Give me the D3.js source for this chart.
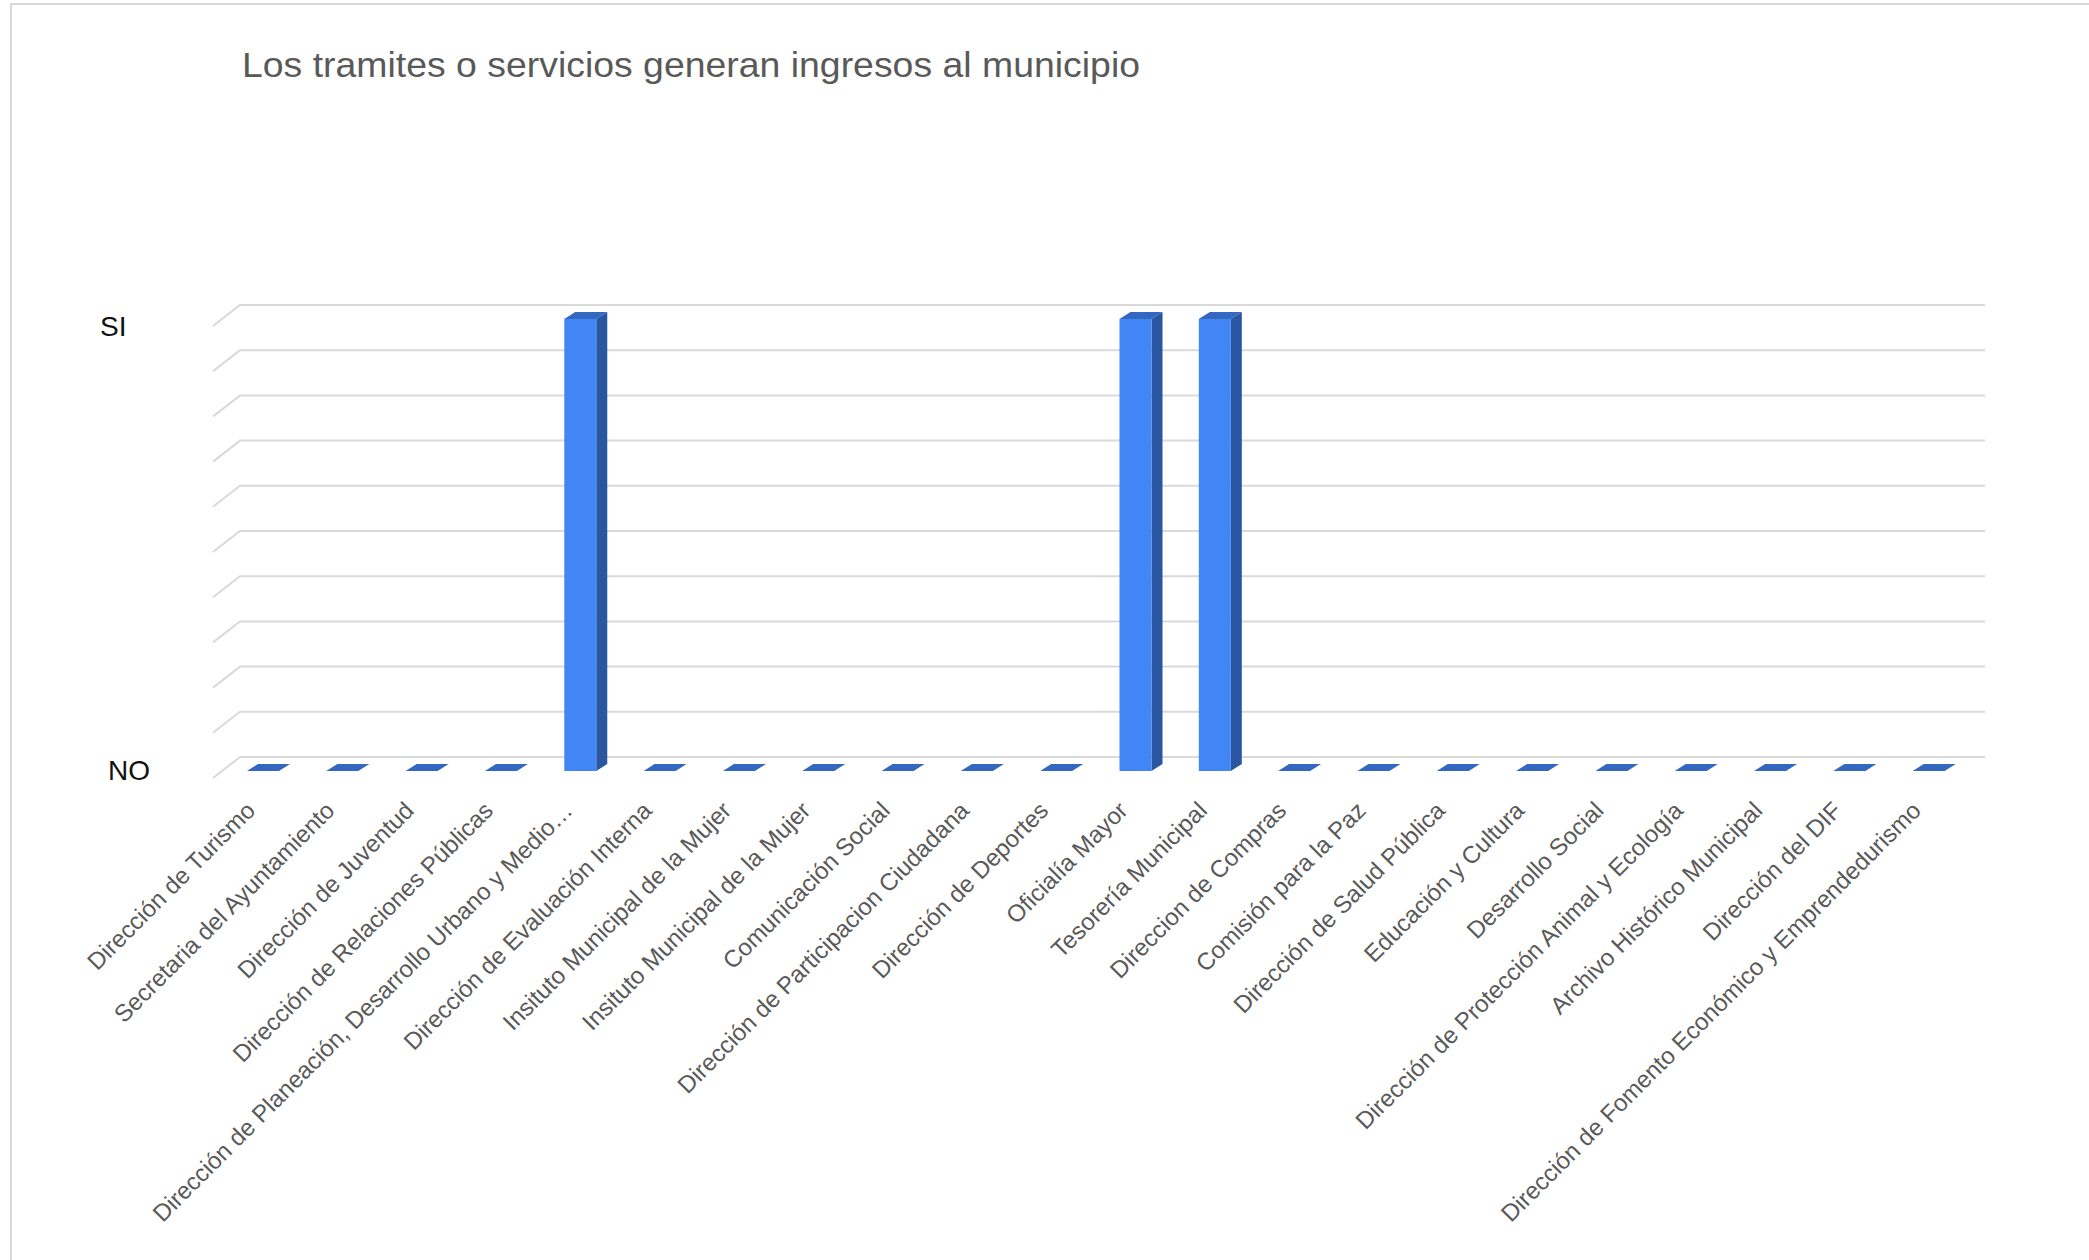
<!DOCTYPE html>
<html>
<head>
<meta charset="utf-8">
<script src="https://cdn.jsdelivr.net/npm/d3@7"></script>
<style>
  html, body { margin: 0; padding: 0; background: #fff; }
  svg { display: block; font-family: "Liberation Sans", Arial, sans-serif; }
</style>
</head>
<body>
<div id="chart"></div>
<script>
// datos (1 = SI, 0 = NO)
const categories = [
    "Dirección de Turismo",
    "Secretaria del Ayuntamiento",
    "Dirección de Juventud",
    "Dirección de Relaciones Públicas",
    "Dirección de Planeación, Desarrollo Urbano y Medio…",
    "Dirección de Evaluación Interna",
    "Insituto Municipal de la Mujer",
    "Insituto Municipal de la Mujer",
    "Comunicación Social",
    "Dirección de Participacion Ciudadana",
    "Dirección de Deportes",
    "Oficialía Mayor",
    "Tesorería Municipal",
    "Direccion de Compras",
    "Comisión para la Paz",
    "Dirección de Salud Pública",
    "Educación y Cultura",
    "Desarrollo Social",
    "Dirección de Protección Animal y Ecología",
    "Archivo Histórico Municipal",
    "Dirección del DIF",
    "Dirección de Fomento Económico y Emprendedurismo"
];
const values = [0, 0, 0, 0, 1, 0, 0, 0, 0, 0, 0, 1, 1, 0, 0, 0, 0, 0, 0, 0, 0, 0];
const yTickValues = [0, 1];
const yTickLabels = ["NO", "SI"];
const title = "Los tramites o servicios generan ingresos al municipio";

const W = 2089, H = 1260;
const margin = { left: 240, right: 1985, top: 305, bottom: 757 };

// profundidad del efecto 3D
const wallDx = -27, wallDy = 21;
const barDx = 11, barDy = 7, barShift = 14;
const barOffset = 7, barWidth = 32;

const svg = d3.select("#chart").append("svg")
    .attr("width", W)
    .attr("height", H);

svg.append("rect").attr("width", W).attr("height", H).attr("fill", "#fff");

// marco
svg.append("line").attr("x1", 10).attr("x2", W).attr("y1", 4).attr("y2", 4)
    .attr("stroke", "#d9d9d9").attr("stroke-width", 2);
svg.append("line").attr("x1", 11).attr("x2", 11).attr("y1", 4).attr("y2", H)
    .attr("stroke", "#d9d9d9").attr("stroke-width", 2);

svg.append("text")
    .attr("x", 242)
    .attr("y", 77)
    .attr("font-size", 35)
    .attr("fill", "#595959")
    .attr("textLength", 898)
    .attr("lengthAdjust", "spacingAndGlyphs")
    .text(title);

const x = d3.scaleBand()
    .domain(d3.range(categories.length))
    .range([margin.left, margin.right]);

const y = d3.scaleLinear()
    .domain([0, 1])
    .range([margin.bottom, margin.top]);

// lineas de cuadricula con su pequeño tramo diagonal
const grid = svg.append("g");
y.ticks(10).forEach(t => {
    grid.append("path")
        .attr("d", `M${margin.left + wallDx},${y(t) + wallDy}L${margin.left},${y(t)}L${margin.right},${y(t)}`)
        .attr("fill", "none")
        .attr("stroke", "#d9d9d9")
        .attr("stroke-width", 2);
});

// etiquetas SI / NO (pequeño ajuste de posicion para cada una)
const yLabelNudge = { NO: { dx: 0, dy: 23 }, SI: { dx: -8, dy: 31 } };
svg.append("g").selectAll("text")
    .data(yTickValues)
    .enter().append("text")
    .attr("x", (d, i) => 108 + yLabelNudge[yTickLabels[i]].dx)
    .attr("y", (d, i) => y(d) + yLabelNudge[yTickLabels[i]].dy)
    .attr("font-size", 28)
    .attr("fill", "#111")
    .text((d, i) => yTickLabels[i]);

// barras 3D
const bars = svg.append("g").selectAll("g")
    .data(values)
    .enter().append("g");

bars.each(function (v, i) {
    const g = d3.select(this);
    const x0 = x(i) + barOffset, x1 = x0 + barWidth;
    const yb = y(0) + barShift, yt = y(v) + barShift;
    if (v > 0) {
        g.append("path")
            .attr("d", `M${x1},${yt}L${x1 + barDx},${yt - barDy}L${x1 + barDx},${yb - barDy}L${x1},${yb}Z`)
            .attr("fill", "#2a55a0");
        g.append("rect")
            .attr("x", x0).attr("y", yt)
            .attr("width", barWidth).attr("height", yb - yt)
            .attr("fill", "#4285f4");
    }
    g.append("path")
        .attr("d", `M${x0},${yt}L${x0 + barDx},${yt - barDy}L${x1 + barDx},${yt - barDy}L${x1},${yt}Z`)
        .attr("fill", "#3367c0");
});

// eje de categorias
const xAxis = svg.append("g")
    .attr("transform", `translate(0,${margin.bottom})`)
    .call(d3.axisBottom(x).tickSize(0).tickFormat(i => categories[i]));

xAxis.select(".domain").remove();
xAxis.selectAll("text")
    .attr("font-family", "Liberation Sans, Arial, sans-serif")
    .attr("font-size", 24)
    .attr("fill", "#595959")
    .attr("x", 0).attr("y", 0).attr("dy", 0)
    .attr("transform", "translate(-23,55) rotate(-45)")
    .style("text-anchor", "end");
</script>
</body>
</html>
